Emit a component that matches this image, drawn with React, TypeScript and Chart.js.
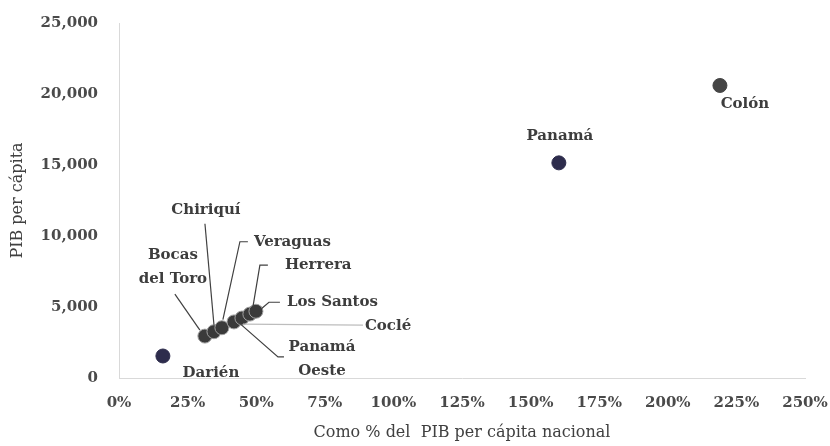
import React, { useEffect, useRef } from "react";
import { Chart, registerables } from "chart.js";

Chart.register(...registerables);

// ---- data ----
const provinces = ["Darién", "Bocas del Toro", "Chiriquí", "Veraguas", "Panamá Oeste", "Coclé", "Herrera", "Los Santos", "Panamá", "Colón"];
const pctOfNational = [16, 31.3, 34.6, 37.5, 41.9, 44.8, 47.7, 49.9, 160.3, 219];
const gdpPerCapita = [1550, 2950, 3260, 3540, 3950, 4220, 4500, 4700, 15150, 20600];
const xTicks = [0, 25, 50, 75, 100, 125, 150, 175, 200, 225, 250];
const yTicks = [0, 5000, 10000, 15000, 20000, 25000];
const xTitle = "Como % del  PIB per cápita nacional";
const yTitle = "PIB per cápita";

// ---- styling / label layout (offsets in px relative to the point) ----
const FONT = "'DejaVu Serif', serif";
const pointColors = ["#2d2c4c", "#3a3a3a", "#3a3a3a", "#3a3a3a", "#3a3a3a", "#3a3a3a", "#3a3a3a", "#3a3a3a", "#2d2c4c", "#454545"];
const pointBorders = ["#2d2c4c", "#a0a0a0", "#a0a0a0", "#a0a0a0", "#a0a0a0", "#a0a0a0", "#a0a0a0", "#a0a0a0", "#2d2c4c", "#454545"];

type LabelLayout = { lines: string[]; dx: number; dy: number; align: CanvasTextAlign; leader?: number[][]; leaderColor?: string };
const labelLayout: LabelLayout[] = [
  { lines: ["Darién"], dx: 48, dy: 17, align: "center" },
  { lines: ["Bocas", "del Toro"], dx: -32, dy: -81, align: "center", leader: [[-30, -42], [-5, -6]] },
  { lines: ["Chiriquí"], dx: -8, dy: -122, align: "center", leader: [[-9, -108], [0, -7]] },
  { lines: ["Veraguas"], dx: 32, dy: -86, align: "left", leader: [[26, -86], [18, -86], [1, -8]] },
  { lines: ["Panamá", "Oeste"], dx: 88, dy: 25, align: "center", leader: [[4, 0], [44, 35], [50, 35]] },
  { lines: ["Coclé"], dx: 123, dy: 8, align: "left", leader: [[1, 6], [121, 7]], leaderColor: "#bdbdbd" },
  { lines: ["Herrera"], dx: 35, dy: -49, align: "left", leader: [[18, -49], [10, -49], [3, -7]] },
  { lines: ["Los Santos"], dx: 31, dy: -9, align: "left", leader: [[24, -9], [13, -9], [6, -3]] },
  { lines: ["Panamá"], dx: 1, dy: -27, align: "center" },
  { lines: ["Colón"], dx: 25, dy: 19, align: "center" },
];

const labelPlugin = {
  id: "pointLabels",
  afterDatasetsDraw(chart: any) {
    const ctx = chart.ctx;
    const meta = chart.getDatasetMeta(0);
    ctx.save();
    meta.data.forEach((el: any, i: number) => {
      const L = labelLayout[i];
      if (!L) return;
      const px = el.x, py = el.y;
      if (L.leader) {
        ctx.beginPath();
        ctx.strokeStyle = L.leaderColor || "#404040";
        ctx.lineWidth = 1.2;
        L.leader.forEach((p, k) => {
          if (k === 0) ctx.moveTo(px + p[0], py + p[1]);
          else ctx.lineTo(px + p[0], py + p[1]);
        });
        ctx.stroke();
      }
      ctx.font = `bold 15px ${FONT}`;
      ctx.fillStyle = "#3d3d3d";
      ctx.textAlign = L.align;
      ctx.textBaseline = "middle";
      L.lines.forEach((t, k) => {
        ctx.fillText(t, px + L.dx, py + L.dy + k * 24);
      });
    });
    ctx.restore();
  },
};

export default function App() {
  const ref = useRef<HTMLCanvasElement | null>(null);
  useEffect(() => {
    if (!ref.current) return;
    const chart = new Chart(ref.current, {
      type: "scatter",
      data: {
        datasets: [
          {
            label: "Provincias",
            data: pctOfNational.map((x, i) => ({ x, y: gdpPerCapita[i] })),
            backgroundColor: pointColors,
            borderColor: pointBorders,
            borderWidth: 1,
            pointRadius: 7,
          },
        ],
      },
      options: {
        responsive: false,
        animation: false,
        events: [],
        layout: { padding: { top: 23, right: 25, left: 0, bottom: 0 } },
        plugins: { legend: { display: false }, tooltip: { enabled: false } },
        scales: {
          x: {
            type: "linear",
            min: 0,
            max: 250,
            afterBuildTicks: (s: any) => { s.ticks = xTicks.map((v) => ({ value: v })); },
            afterFit: (s: any) => { s.height = 68; s.paddingLeft = 0; s.paddingRight = 0; },
            grid: { display: false, drawTicks: false },
            border: { display: true, color: "#d9d9d9", width: 1 },
            ticks: {
              padding: 16,
              maxRotation: 0,
              autoSkip: false,
              color: "#4a4a4a",
              font: { family: FONT, size: 15, weight: "bold" },
              callback: (v: any) => `${v}%`,
            },
            title: {
              display: true,
              text: xTitle,
              color: "#404040",
              padding: { top: 0, bottom: 4 },
              font: { family: FONT, size: 16, weight: "normal" },
            },
          },
          y: {
            type: "linear",
            min: 0,
            max: 25000,
            afterBuildTicks: (s: any) => { s.ticks = yTicks.map((v) => ({ value: v })); },
            afterFit: (s: any) => { s.width = 119; s.paddingTop = 0; s.paddingBottom = 0; },
            grid: { display: false, drawTicks: false },
            border: { display: true, color: "#d9d9d9", width: 1 },
            ticks: {
              padding: 21,
              color: "#4a4a4a",
              font: { family: FONT, size: 15, weight: "bold" },
              callback: (v: any) => Number(v).toLocaleString("en-US"),
            },
            title: {
              display: true,
              text: yTitle,
              color: "#404040",
              padding: { top: 8, bottom: 0 },
              font: { family: FONT, size: 16, weight: "normal" },
            },
          },
        },
      },
      plugins: [labelPlugin],
    });
    return () => chart.destroy();
  }, []);
  return (
    <div style={{ position: "fixed", left: 0, top: 0, width: 830, height: 446, background: "#fff" }}>
      <canvas ref={ref} width={830} height={446} />
    </div>
  );
}
